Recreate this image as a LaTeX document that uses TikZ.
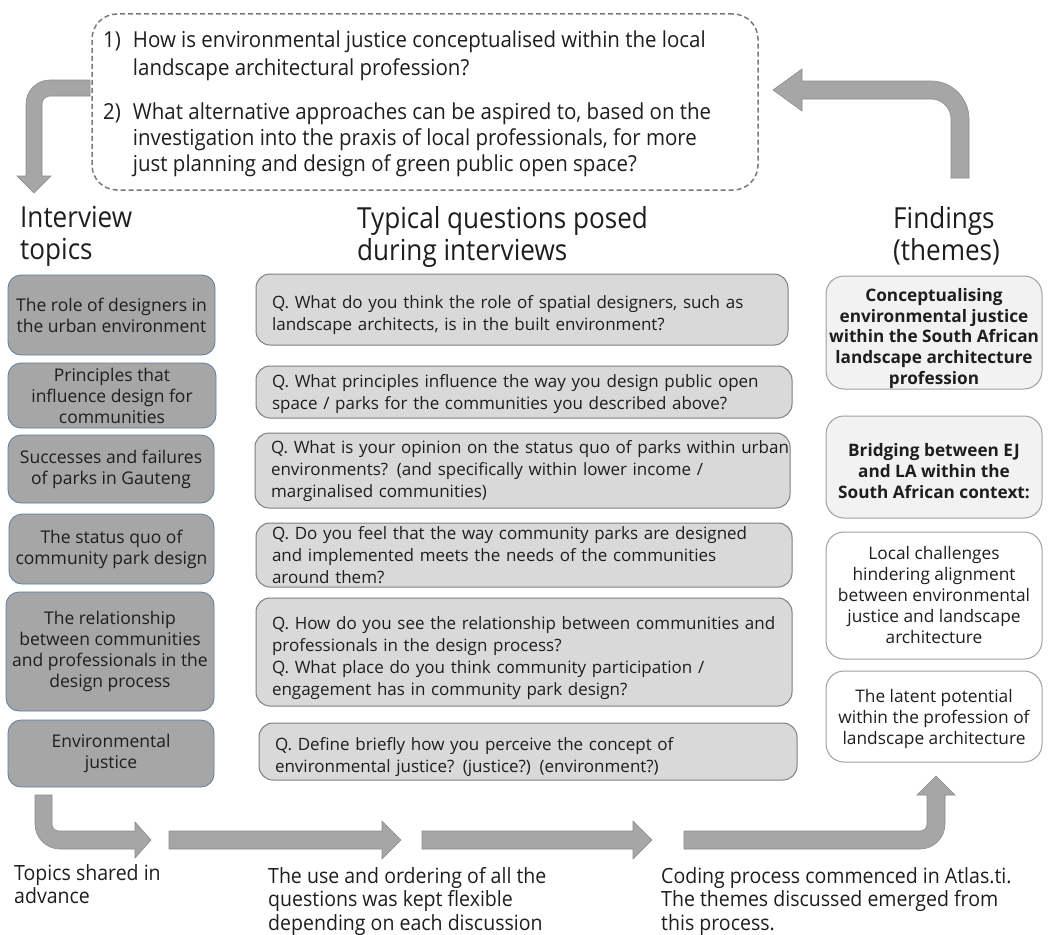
\documentclass[tikz,border=0pt]{standalone}
\usepackage{fontspec}
\setmainfont{Open Sans}
\newfontfamily\cond[FakeStretch=0.9]{Open Sans}
\newfontfamily\condb[FakeStretch=0.93]{Open Sans}
\definecolor{txt}{HTML}{1E1E1E}
\definecolor{topicfill}{HTML}{A6A6A6}
\definecolor{topicdraw}{HTML}{5B7CA3}
\definecolor{qfill}{HTML}{D9D9D9}
\definecolor{qdraw}{HTML}{7F7F7F}
\definecolor{ffill}{HTML}{F2F2F2}
\definecolor{fdraw}{HTML}{A0A0A0}
\definecolor{arrowfill}{HTML}{A6A6A6}
\definecolor{arrowdraw}{HTML}{8C8C8C}
\definecolor{dashdraw}{HTML}{7A7A7A}
\newcommand\ql[1]{\mbox{#1}}
\newcommand\dn[1]{\rule{0pt}{#1}}
\begin{document}
\begin{tikzpicture}[x=1pt,y=-1pt,
  every node/.style={text=txt},
  topic/.style={rectangle, rounded corners=13pt, fill=topicfill, draw=topicdraw, line width=0.8pt, align=center, font=\fontsize{17.5}{21}\selectfont, inner sep=0pt},
  qbox/.style={rectangle, rounded corners=14pt, fill=qfill, draw=qdraw, line width=1pt, align=left, font=\fontsize{17}{22}\selectfont, inner xsep=16pt, inner ysep=0pt},
  finding/.style={rectangle, rounded corners=18pt, fill=white, draw=fdraw, line width=1pt, align=center, font=\fontsize{17.3}{21}\selectfont, inner sep=0pt},
  findingb/.style={finding, fill=ffill, font=\bfseries\fontsize{17.2}{20.8}\selectfont},
  header/.style={anchor=north west, inner sep=0pt, align=left, font=\cond\fontsize{29}{32}\selectfont},
  note/.style={anchor=north west, inner sep=0pt, align=left, font=\condb\fontsize{21}{23.5}\selectfont},
  bigarrow/.style={fill=arrowfill, draw=arrowdraw, line width=0.6pt},
  dashbox/.style={rectangle, rounded corners=25pt, draw=dashdraw, dashed, dash pattern=on 5pt off 3pt, line width=1.5pt, fill=white, inner sep=0pt}
]
\fill[white] (0,0) rectangle (1048,934);
\useasboundingbox (0,0) rectangle (1048,934);

% research questions box
\node[dashbox, minimum width=666pt, minimum height=176pt] (rq) at (425,102) {};
\node[anchor=west, inner sep=0pt, font=\condb\fontsize{22}{25}\selectfont] (rqtext) at (103,104.5)
 {\begin{tabular}{@{}l@{\hspace{12pt}}l@{}}
 1) & How is environmental justice conceptualised within the local\\[3pt]
    & landscape architectural profession?\\[19pt]
 2) & What alternative approaches can be aspired to, based on the\\[1pt]
    & investigation into the praxis of local professionals, for more\\[1pt]
    & just planning and design of green public open space?
 \end{tabular}};

% big arrows top
\path[bigarrow] (90,80) -- (50,80) .. controls (36.7,80) and (26,90.7) .. (26,104) -- (26,176) -- (17,176) -- (34,193) -- (51,176) -- (42,176) -- (42,104) .. controls (42,99.6) and (45.6,96) .. (50,96) -- (90,96) -- cycle;
\path[bigarrow] (773,90) -- (802,69) -- (802,81) -- (931,81) .. controls (952,81) and (969,98) .. (969,119) -- (969,178) -- (951,178) -- (951,119) .. controls (951,108) and (942,99) .. (931,99) -- (802,99) -- (802,111) -- cycle;

% headers
\node[header] (h1) at (20,206) {Interview\\topics};
\node[header] (h2) at (357,206) {Typical questions posed\\during interviews};
\node[header] (h3) at (893,206) {Findings\\(themes)};

% topics
\node[topic, minimum width=207pt, minimum height=80pt] (t1) at (111.5,315) {The role of designers in\\the urban environment};
\node[topic, minimum width=208pt, minimum height=65pt] (t2) at (112,395.5) {Principles that\\influence design for\\communities};
\node[topic, minimum width=206pt, minimum height=68pt] (t3) at (111,469) {Successes and failures\\of parks in Gauteng};
\node[topic, minimum width=205pt, minimum height=70pt] (t4) at (111.5,549) {The status quo of\\community park design};
\node[topic, minimum width=208pt, minimum height=119pt] (t5) at (110,651.5) {The relationship\\between communities\\and professionals in the\\design process};
\node[topic, minimum width=206pt, minimum height=67pt] (t6) at (111,753.5) {Environmental\\justice};

% questions
\node[qbox, minimum width=532pt, minimum height=71pt, text width=500pt] (q1) at (522,309.5)
 {\dn{25pt}\ql{Q. What do you think the role of spatial designers, such as}\\\ql{landscape architects, is in the built environment?}};
\node[qbox, minimum width=536pt, minimum height=52pt, text width=504pt] (q2) at (524,392)
 {\dn{17pt}\ql{Q. What principles influence the way you design public open}\\\ql{space / parks for the communities you described above?}};
\node[qbox, minimum width=535pt, minimum height=75pt, text width=503pt] (q3) at (522.5,470.5)
 {\dn{15pt}\ql{Q. What is your opinion on the status quo of parks within urban}\\\ql{environments? (and specifically within lower income /}\\\ql{marginalised communities)}};
\node[qbox, minimum width=536pt, minimum height=64pt, text width=504pt] (q4) at (524,555)
 {\ql{Q. Do you feel that the way community parks are designed}\\\ql{and implemented meets the needs of the communities}\\\ql{around them?}};
\node[qbox, minimum width=536pt, minimum height=108pt, text width=504pt] (q5) at (524,652)
 {\dn{25pt}\ql{Q. How do you see the relationship between communities and}\\\ql{professionals in the design process?}\\\ql{Q. What place do you think community participation /}\\\ql{engagement has in community park design?}};
\node[qbox, minimum width=538pt, minimum height=57pt, text width=506pt] (q6) at (528,751.5)
 {\dn{25pt}\ql{Q. Define briefly how you perceive the concept of}\\\ql{environmental justice? (justice?) (environment?)}};

% findings
\node[findingb, minimum width=216pt, minimum height=113pt] (f1) at (934,332.5) {\dn{25pt}Conceptualising\\environmental justice\\within the South African\\landscape architecture\\profession};
\node[findingb, minimum width=216pt, minimum height=102pt] (f2) at (934,467) {\dn{21pt}Bridging between EJ\\and LA within the\\South African context:};
\node[finding, minimum width=216pt, minimum height=127pt] (f3) at (934,595.5) {Local challenges\\hindering alignment\\between environmental\\justice and landscape\\architecture};
\node[finding, minimum width=216pt, minimum height=91pt] (f4) at (934,716.5) {\dn{19pt}The latent potential\\within the profession of\\landscape architecture};

% bottom arrows
\path[bigarrow] (35,795) -- (35,824) .. controls (35,837.8) and (46.2,849) .. (60,849) -- (135,849) -- (135,858) -- (151,840) -- (135,822) -- (135,831) -- (59,831) .. controls (55.1,831) and (52,827.9) .. (52,824) -- (52,795) -- cycle;
\path[bigarrow] (169,831) -- (382,831) -- (382,821) -- (401,840) -- (382,859) -- (382,849) -- (169,849) -- cycle;
\path[bigarrow] (422,831) -- (633,831) -- (633,821) -- (652,840) -- (633,859) -- (633,849) -- (422,849) -- cycle;
\path[bigarrow] (684,831) -- (920,831) .. controls (923.9,831) and (927,827.9) .. (927,824) -- (927,795) -- (917,795) -- (936,776) -- (955,795) -- (945,795) -- (945,824) .. controls (945,837.8) and (933.8,849) .. (920,849) -- (684,849) -- cycle;

% bottom notes
\node[note] (n1) at (14,864) {Topics shared in\\advance};
\node[note] (n2) at (268,867) {The use and ordering of all the\\questions was kept flexible\\depending on each discussion};
\node[note] (n3) at (661,867) {Coding process commenced in Atlas.ti.\\The themes discussed emerged from\\this process.};
\end{tikzpicture}
\end{document}
